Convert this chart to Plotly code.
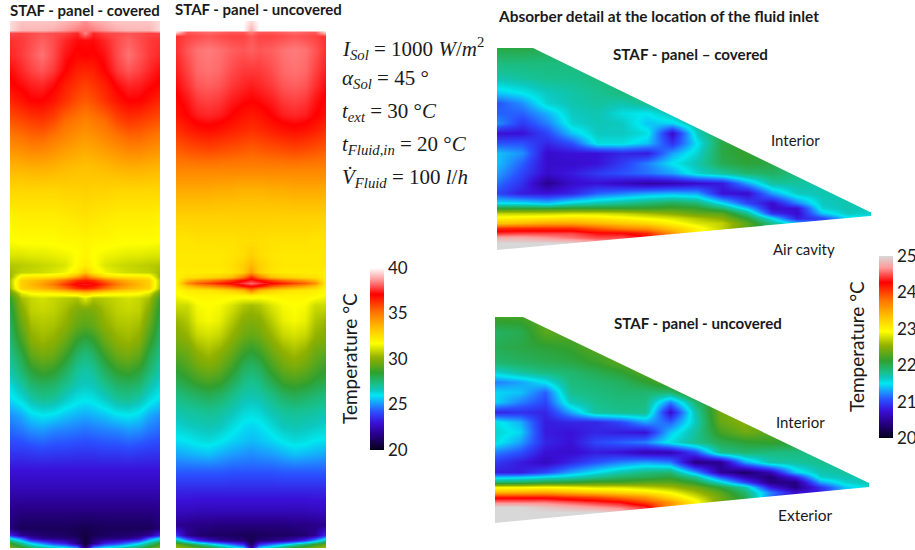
import plotly.graph_objects as go

W, H = 915, 550

# ---------- data: temperatures in deg C ----------
half_width_mm = [0, 8, 20, 32, 43, 54, 64, 75]

panel_cov_height = [0,9,12,19,34,49,64,79,99,119,144,169,194,219,234,244,251,255,259,263,267,272,277,289,304,319,334,349,364,379,394,409,429,449,469,489,507,514,517,522,527]
panel_cov_half = [
[38.6,38.9,39.1,39.3,39.3,39.3,39.3,39.6],
[38.3,38.4,38.7,39.0,39.1,39.1,39.1,39.6],
[38.5,37.5,37.8,37.9,38.0,37.9,37.8,37.8],
[37.2,37.2,37.5,37.9,38.1,37.9,37.7,37.6],
[37.1,37.0,37.3,37.9,38.3,38.0,37.7,37.5],
[36.5,36.6,37.1,37.7,38.0,37.8,37.5,37.2],
[36.0,36.2,36.6,37.2,37.5,37.4,37.2,37.0],
[35.6,35.8,36.3,36.8,37.1,37.1,36.8,36.5],
[34.8,35.0,35.3,35.9,36.2,36.1,35.9,35.7],
[34.2,34.3,34.6,34.9,35.2,35.2,35.0,34.8],
[33.4,33.5,33.6,33.8,33.9,33.9,33.8,33.7],
[33.0,32.9,32.9,32.8,32.8,32.8,32.8,32.8],
[32.5,32.4,32.3,32.2,32.2,32.2,32.2,32.1],
[32.0,31.9,31.9,31.8,31.8,31.8,31.8,31.7],
[32.0,31.7,31.5,31.4,31.3,31.3,31.2,31.2],
[32.2,31.8,31.2,31.0,30.9,30.8,30.7,30.6],
[33.2,32.2,31.5,31.2,31.0,30.9,30.8,30.4],
[35.0,33.8,32.6,32.3,32.2,32.2,32.0,30.2],
[36.6,36.3,35.2,34.2,33.7,33.3,32.9,30.6],
[37.4,37.2,36.2,35.0,34.2,33.6,33.0,30.6],
[36.6,36.3,35.2,34.2,33.7,33.3,32.9,30.4],
[33.0,32.6,32.2,32.0,31.9,31.8,31.2,29.2],
[31.3,30.5,30.7,30.9,31.1,30.9,30.4,28.6],
[29.7,29.8,30.4,30.8,30.9,30.8,29.9,28.2],
[29.2,29.4,30.1,30.5,30.6,30.4,29.4,27.9],
[28.2,28.5,29.5,30.1,30.3,30.0,28.8,27.6],
[27.4,27.7,28.7,29.5,29.7,29.3,28.1,27.2],
[26.9,27.1,27.9,28.6,28.8,28.4,27.6,26.8],
[26.6,26.7,27.2,27.7,27.8,27.6,26.9,26.3],
[26.0,26.1,26.5,27.0,27.1,26.8,26.2,25.8],
[25.3,25.4,25.6,25.9,26.0,25.8,25.3,25.0],
[24.6,24.7,24.8,24.9,25.1,25.0,24.7,24.5],
[23.8,23.8,23.9,23.9,24.0,23.9,23.8,23.8],
[23.0,23.0,23.0,23.0,23.0,23.0,23.0,23.0],
[22.4,22.4,22.4,22.4,22.4,22.4,22.4,22.4],
[21.6,21.6,21.6,21.6,21.6,21.6,21.6,21.7],
[20.8,20.9,21.0,21.0,21.0,21.0,21.0,21.4],
[20.6,20.9,21.1,21.2,21.3,21.5,21.9,23.5],
[20.5,21.2,21.5,21.6,21.8,22.4,24.5,26.0],
[20.5,21.6,23.2,23.8,24.8,25.8,27.2,28.6],
[21.0,25.5,26.5,27.0,27.5,28.0,29.0,30.0],
]

panel_unc_height = [0,9,11,15,29,49,64,79,94,109,129,149,169,194,219,234,244,251,256,259,262,265,269,274,284,299,314,329,344,359,374,389,404,419,434,449,469,489,504,514,519,523,527]
panel_unc_half = [
[39.5,40.0,40.0,40.0,40.0,40.0,40.0,40.0],
[39.0,40.0,40.0,40.0,40.0,40.0,40.0,40.0],
[38.4,38.0,38.0,38.1,38.2,38.1,38.0,39.5],
[38.0,37.8,37.8,37.9,38.0,37.9,37.8,37.6],
[38.1,38.0,38.1,38.3,38.4,38.3,38.0,37.6],
[37.7,37.7,37.9,38.2,38.3,38.2,37.8,37.4],
[37.4,37.5,37.7,38.0,38.1,38.0,37.6,37.2],
[37.1,37.2,37.4,37.7,37.8,37.7,37.3,37.0],
[36.7,36.8,37.1,37.4,37.5,37.4,37.1,36.8],
[36.3,36.4,36.6,36.8,36.9,36.8,36.6,36.3],
[35.5,35.6,35.7,35.8,35.9,35.8,35.7,35.5],
[34.7,34.7,34.7,34.7,34.7,34.7,34.7,34.7],
[33.7,33.7,33.8,33.8,33.9,33.9,33.9,33.9],
[33.0,33.0,33.0,33.0,33.0,33.0,33.0,33.0],
[32.6,32.6,32.5,32.5,32.5,32.5,32.4,32.4],
[33.0,32.6,32.4,32.3,32.3,32.3,32.3,32.3],
[33.6,33.0,32.5,32.3,32.3,32.3,32.3,32.3],
[34.2,33.0,32.4,32.2,32.2,32.2,32.2,32.1],
[36.5,35.0,33.5,33.0,32.8,32.6,32.5,32.0],
[37.4,37.0,36.0,35.2,34.7,34.2,33.5,32.0],
[38.2,37.7,37.1,36.6,36.0,35.5,34.5,32.0],
[37.2,36.8,35.6,34.9,34.4,33.9,33.2,32.0],
[35.0,33.6,33.0,32.6,32.4,32.3,32.2,31.8],
[32.2,32.0,32.0,32.0,32.0,32.0,31.9,31.6],
[30.4,30.6,31.2,31.6,31.7,31.6,31.0,31.0],
[29.9,30.0,30.7,31.4,31.6,31.4,30.6,30.3],
[29.4,29.6,30.2,30.9,31.1,30.9,30.2,29.9],
[28.5,28.8,29.6,30.2,30.5,30.2,29.6,29.4],
[27.8,28.0,28.9,29.6,29.9,29.6,29.1,28.7],
[27.2,27.4,28.1,28.8,29.0,28.8,28.4,28.1],
[26.8,26.9,27.3,27.8,28.0,27.8,27.6,27.4],
[26.3,26.4,26.8,27.1,27.2,27.1,27.0,26.9],
[25.8,25.9,26.3,26.7,26.8,26.7,26.6,26.4],
[25.5,25.6,25.8,26.1,26.3,26.2,26.0,25.9],
[24.9,25.0,25.1,25.3,25.5,25.4,25.3,25.2],
[24.3,24.3,24.3,24.4,24.4,24.4,24.4,24.4],
[23.4,23.4,23.4,23.4,23.4,23.4,23.4,23.4],
[22.5,22.5,22.5,22.5,22.5,22.5,22.6,22.6],
[21.5,21.5,21.5,21.5,21.6,21.6,21.7,21.8],
[20.9,21.0,21.1,21.1,21.2,21.4,21.9,23.7],
[20.8,21.4,21.6,22.0,22.6,23.5,25.0,27.0],
[21.0,23.5,24.5,25.5,26.5,27.5,28.5,29.5],
[22.0,26.0,27.0,28.0,29.0,29.5,30.0,30.5],
]

detail_x = [0,25,50,75,100,125,150,175,200,225,250,275,300,325,350,375]
detail_cov_y = [0,15,30,45,55,65,75,85,95,105,115,125,135,145,155,160,165,170,175,180,185,190,195,202]
detail_cov_cols = [
[22.05,21.85,21.7,21.4,21.05,21.1,21.25,20.75,21.05,21.4,21.4,21.3,21.15,21.0,21.5,22.1,22.7,23.0,23.3,24.1,24.4,24.8,25,25],
[22.05,21.85,21.75,21.5,21.25,21.1,20.95,20.75,21.05,21.25,21.1,21.0,20.9,20.8,21.5,22.1,22.7,23.05,23.4,24.1,24.45,24.8,25,25],
[22.0,21.85,21.8,21.65,21.6,21.35,21.2,21.0,20.85,20.7,20.7,20.7,20.45,20.75,21.4,22.1,22.7,23.1,23.5,24.1,24.45,24.7,25,25],
[21.9,21.85,21.8,21.72,21.7,21.65,21.6,21.4,21.05,20.75,20.7,20.8,20.7,20.85,21.6,22.15,22.75,23.15,23.5,24.1,24.45,24.6,25,25],
[21.85,21.85,21.85,21.78,21.75,21.7,21.68,21.65,21.55,20.75,20.75,20.95,20.75,21.1,21.7,22.15,22.75,23.1,23.4,23.9,24.3,24.5,24.8,25],
[21.85,21.85,21.85,21.85,21.7,21.55,21.65,21.65,21.55,20.85,20.95,21.05,20.65,21.2,21.8,22.15,22.7,23.0,23.3,23.7,24.3,24.5,24.7,24.8],
[21.9,21.9,21.9,21.9,21.8,21.5,21.4,21.55,21.4,20.8,21.2,21.15,20.55,21.3,21.9,22.15,22.6,22.9,23.2,23.6,24.1,24.3,24.4,24.4],
[21.95,21.95,21.95,21.95,21.9,21.7,21.45,20.7,20.9,21.3,21.5,21.3,20.6,21.35,22.0,22.2,22.5,22.8,23.0,23.3,23.6,23.6,23.6,23.6],
[22.0,22.0,22.0,22.0,22.0,21.95,21.8,21.65,21.5,21.6,21.7,21.6,20.7,21.3,21.9,22.15,22.35,22.65,22.8,23.0,23.0,23.0,23.0,23.0],
[22.05,22.05,22.05,22.05,22.05,22.05,22.05,22.05,22.05,22.05,22.0,21.75,20.8,20.75,21.5,21.9,22.3,22.5,22.7,22.7,22.7,22.7,22.7,22.7],
[22.15,22.15,22.15,22.15,22.15,22.15,22.15,22.15,22.15,22.15,22.1,21.9,21.3,20.7,21.0,21.4,21.8,22.1,22.3,22.3,22.3,22.3,22.3,22.3],
[22.05,22.05,22.05,22.05,22.05,22.05,22.05,22.05,22.05,22.05,22.05,21.95,21.75,21.3,20.7,20.7,20.9,21.5,21.8,21.8,21.8,21.8,21.8,21.8],
[21.85,21.85,21.85,21.85,21.85,21.85,21.85,21.85,21.85,21.85,21.85,21.85,21.75,21.65,21.2,20.75,20.7,20.8,21.4,21.4,21.4,21.4,21.4,21.4],
[21.7,21.7,21.7,21.7,21.7,21.7,21.7,21.7,21.7,21.7,21.7,21.7,21.7,21.7,21.65,21.6,21.4,21.0,21.0,21.0,21.0,21.0,21.0,21.0],
[21.7,21.7,21.7,21.7,21.7,21.7,21.7,21.7,21.7,21.7,21.7,21.7,21.7,21.7,21.7,21.7,21.65,21.45,21.45,21.45,21.45,21.45,21.45,21.45],
[21.65,21.65,21.65,21.65,21.65,21.65,21.65,21.65,21.65,21.65,21.65,21.65,21.65,21.65,21.65,21.65,21.6,21.5,21.5,21.5,21.5,21.5,21.5,21.5],
]

detail_unc_y = [0,15,30,45,55,65,75,85,95,105,115,125,135,145,155,160,165,170,175,180,185,190,195,206]
detail_unc_cols = [
[22.2,21.95,22.0,21.9,21.6,21.2,21.45,21.45,20.85,21.55,21.6,21.55,21.2,20.95,20.8,21.4,21.9,22.9,23.4,24.2,24.6,25,25,25],
[22.2,22.0,22.05,21.95,21.75,21.3,21.4,21.2,20.9,21.35,21.45,21.3,21.05,20.8,20.8,21.45,21.95,22.9,23.45,24.2,24.6,25,25,25],
[22.3,22.3,22.1,22.0,21.85,21.5,21.1,21.0,20.85,20.8,20.8,20.85,20.75,20.65,21.0,21.55,22.05,22.95,23.5,24.2,24.6,24.9,25,25],
[22.3,22.3,22.15,22.05,21.9,21.85,21.8,21.65,21.3,20.85,20.75,20.75,20.7,20.85,21.3,21.65,22.1,22.9,23.4,24.1,24.5,24.8,25,25],
[22.3,22.3,22.3,22.15,22.0,21.9,21.85,21.8,21.75,20.85,20.85,21.0,20.8,21.05,21.5,21.8,22.2,22.8,23.3,24.0,24.4,24.7,25,25],
[22.3,22.3,22.3,22.3,22.1,21.95,21.9,21.85,21.8,21.0,20.8,21.1,20.75,21.2,21.7,21.95,22.2,22.8,23.2,23.8,24.3,24.6,24.9,25],
[22.3,22.3,22.3,22.3,22.3,22.1,21.9,21.85,21.8,21.3,20.75,21.2,20.6,21.3,21.85,22.0,22.3,22.7,23.1,23.6,24.0,24.4,24.4,24.4],
[22.3,22.3,22.3,22.3,22.3,22.3,21.9,21.2,20.7,21.1,21.4,21.55,20.6,21.2,21.9,22.1,22.3,22.6,22.9,23.2,23.6,23.6,23.6,23.6],
[22.3,22.3,22.3,22.3,22.3,22.3,22.3,21.9,21.7,21.65,21.75,21.8,21.0,20.4,21.3,21.8,22.1,22.4,22.6,22.8,23.0,23.0,23.0,23.0],
[22.3,22.3,22.3,22.3,22.3,22.3,22.3,22.3,22.4,22.35,22.2,22.0,21.8,20.45,20.5,21.1,21.6,22.1,22.3,22.4,22.4,22.4,22.4,22.4],
[22.5,22.5,22.5,22.5,22.5,22.5,22.5,22.5,22.5,22.5,22.4,22.1,21.9,21.3,20.3,20.6,21.0,21.7,21.9,22.0,22.0,22.0,22.0,22.0],
[22.3,22.3,22.3,22.3,22.3,22.3,22.3,22.3,22.3,22.3,22.3,22.15,21.85,21.7,20.6,20.35,20.4,20.8,21.2,21.2,21.2,21.2,21.2,21.2],
[22.1,22.1,22.1,22.1,22.1,22.1,22.1,22.1,22.1,22.1,22.1,22.1,21.85,21.75,21.4,20.8,20.4,20.4,20.7,20.7,20.7,20.7,20.7,20.7],
[21.8,21.8,21.8,21.8,21.8,21.8,21.8,21.8,21.8,21.8,21.8,21.8,21.8,21.8,21.7,21.6,21.3,20.9,20.8,20.8,20.8,20.8,20.8,20.8],
[21.75,21.75,21.75,21.75,21.75,21.75,21.75,21.75,21.75,21.75,21.75,21.75,21.75,21.75,21.75,21.7,21.6,21.4,21.4,21.4,21.4,21.4,21.4,21.4],
[21.7,21.7,21.7,21.7,21.7,21.7,21.7,21.7,21.7,21.7,21.7,21.7,21.7,21.7,21.7,21.7,21.7,21.6,21.6,21.6,21.6,21.6,21.6,21.6],
]

panel_ticks = [20, 25, 30, 35, 40]
detail_ticks = [20, 21, 22, 23, 24, 25]

equations = [
    "<i>I</i><sub><i>Sol</i></sub> = 1000 <i>W</i>/<i>m</i><sup>2</sup>",
    "<i>α</i><sub><i>Sol</i></sub> = 45 °",
    "<i>t</i><sub><i>ext</i></sub> = 30 °<i>C</i>",
    "<i>t</i><sub><i>Fluid,in</i></sub> = 20 °<i>C</i>",
    "<i>V̇</i><sub><i>Fluid</i></sub> = 100 <i>l</i>/<i>h</i>",
]

# ---------- styling ----------
def scale(top):
    return [
        [0.00, "#05001a"], [0.09, "#2a0090"], [0.15, "#3a10d8"], [0.21, "#2a50ff"],
        [0.25, "#1e90ff"], [0.30, "#00e8f0"], [0.33, "#0cc8c0"], [0.36, "#18c08c"],
        [0.425, "#30a030"], [0.507, "#90b000"], [0.585, "#ffff00"], [0.67, "#ffc000"],
        [0.76, "#ff7000"], [0.855, "#ff0000"], [0.936, "#ff9a9a"], [1.00, top],
    ]

def dom_x(a, b):
    return [a / W, b / W]

def dom_y(top, bottom):
    return [1 - bottom / H, 1 - top / H]

full_x = [-v for v in half_width_mm[:0:-1]] + half_width_mm

def mirror(rows):
    return [r[:0:-1] + r for r in rows]

def transpose(cols):
    return [list(r) for r in zip(*cols)]

def colorbar(x_px, top, bottom, ticks):
    return dict(
        x=x_px / W, xanchor="left", xpad=0,
        y=1 - bottom / H, yanchor="bottom", ypad=0,
        len=(bottom - top) / H, lenmode="fraction",
        thickness=14, thicknessmode="pixels", outlinewidth=0,
        tickvals=ticks, ticks="", ticklen=0, showticklabels=True,
        tickfont=dict(family="Lato", size=17, color="#1a1a1a"),
    )

fig = go.Figure()

fig.add_trace(go.Heatmap(x=full_x, y=panel_cov_height, z=mirror(panel_cov_half), zmin=20, zmax=40,
                         colorscale=scale("#f8f8f8"), zsmooth="best", showscale=False, xaxis="x", yaxis="y"))
fig.add_trace(go.Heatmap(x=full_x, y=panel_unc_height, z=mirror(panel_unc_half), zmin=20, zmax=40,
                         colorscale=scale("#ffffff"), zsmooth="best", xaxis="x2", yaxis="y2",
                         colorbar=colorbar(370, 268, 450, panel_ticks)))
fig.add_trace(go.Heatmap(x=detail_x, y=detail_cov_y, z=transpose(detail_cov_cols), zmin=20, zmax=25,
                         colorscale=scale("#d8d8d8"), zsmooth="best", showscale=False, xaxis="x3", yaxis="y3"))
fig.add_trace(go.Heatmap(x=detail_x, y=detail_unc_y, z=transpose(detail_unc_cols), zmin=20, zmax=25,
                         colorscale=scale("#d8d8d8"), zsmooth="best", xaxis="x4", yaxis="y4",
                         colorbar=colorbar(879, 256, 438, detail_ticks)))

hidden = dict(visible=False, showgrid=False, zeroline=False, fixedrange=True)
fig.update_layout(
    width=W, height=H, margin=dict(l=0, r=0, t=0, b=0),
    paper_bgcolor="white", plot_bgcolor="white", showlegend=False,
    xaxis=dict(domain=dom_x(10, 160), range=[-75, 75], **hidden),
    yaxis=dict(domain=dom_y(21, 548), range=[527, 0], **hidden),
    xaxis2=dict(domain=dom_x(176, 326), range=[-75, 75], anchor="y2", **hidden),
    yaxis2=dict(domain=dom_y(21, 548), range=[527, 0], anchor="x2", **hidden),
    xaxis3=dict(domain=dom_x(497, 871), range=[0, 374], anchor="y3", **hidden),
    yaxis3=dict(domain=dom_y(48, 250), range=[202, 0], anchor="x3", **hidden),
    xaxis4=dict(domain=dom_x(495, 869), range=[0, 374], anchor="y4", **hidden),
    yaxis4=dict(domain=dom_y(317, 523), range=[206, 0], anchor="x4", **hidden),
)

# white masks that cut the detail views to the wedge of the absorber
def mask(xr, yr, path):
    fig.add_shape(type="path", xref=xr, yref=yr, path=path, fillcolor="white",
                  line=dict(width=0), layer="above")

mask("x3", "y3", "M 36 0 L 373 164 L 375 164 L 375 -1 L 36 -1 Z")
mask("x3", "y3", "M 0 202 L 373 168 L 375 168 L 375 203 L 0 203 Z")
mask("x4", "y4", "M 28 0 L 374 166 L 375 166 L 375 -1 L 28 -1 Z")
mask("x4", "y4", "M 0 206 L 374 170 L 375 170 L 375 207 L 0 207 Z")

def label(x, y, text, size=14, bold=False, family="Lato", color="#1a1a1a", angle=0, anchor="left"):
    t = f"<b>{text}</b>" if bold else text
    fig.add_annotation(xref="paper", yref="paper", x=x / W, y=1 - y / H, text=t, showarrow=False,
                       xanchor=anchor, yanchor="middle", textangle=angle,
                       font=dict(family=family, size=size, color=color), borderpad=0, borderwidth=0)

label(10, 10, "STAF - panel - covered", 15, True)
label(175, 9, "STAF - panel - uncovered", 15, True)
label(498, 16, "Absorber detail at the location of the fluid inlet", 15.4, True)
label(613, 54, "STAF - panel – covered", 15.2, True)
label(614, 323, "STAF - panel - uncovered", 15.1, True)
label(771, 140, "Interior", 15)
label(773, 249, "Air cavity", 15)
label(776, 422, "Interior", 15)
label(778, 515, "Exterior", 15.5)
label(349, 359, "Temperature °C", 19, angle=-90, anchor="center")
label(856, 347, "Temperature °C", 19, angle=-90, anchor="center")
for y, eq in zip([48, 79, 112, 145, 178], equations):
    label(342, y, eq, 21, family="Liberation Serif")

fig.write_html("out.html", config={"displayModeBar": False},
               post_script="document.body.style.margin='0';document.documentElement.style.overflow='hidden';")
